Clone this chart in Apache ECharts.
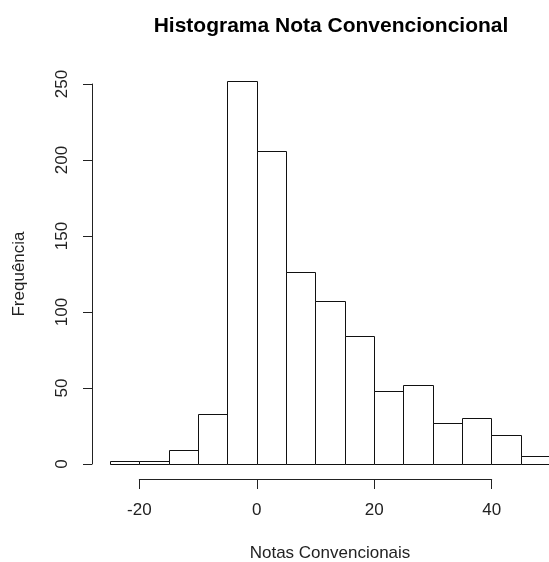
<!DOCTYPE html>
<html>
<head>
<meta charset="utf-8">
<script src="https://cdn.jsdelivr.net/npm/echarts@6/dist/echarts.min.js"></script>
<style>
  html, body { margin: 0; padding: 0; background: #fff; }
  #chart { width: 549px; height: 562px; }
</style>
</head>
<body>
<div id="chart"></div>
<script>
// Histogram bins (lower edge of each class) and their frequencies
const binStarts = [-25, -20, -15, -10, -5, 0, 5, 10, 15, 20, 25, 30, 35, 40, 45];
const binWidth = 5;
const counts = [2, 2, 9, 33, 252, 206, 126, 107, 84, 48, 52, 27, 30, 19, 5];

// Axis tick values
const xTicks = [-20, 0, 20, 40];
const yTicks = [0, 50, 100, 150, 200, 250];

const titleText = 'Histograma Nota Convencioncional';
const xTitle = 'Notas Convencionais';
const yTitle = 'Frequência';

const FONT = '"Liberation Sans", Arial, sans-serif';

const histData = binStarts.map((s, i) => [s, s + binWidth, counts[i]]);

const chart = echarts.init(document.getElementById('chart'), null, { renderer: 'canvas' });

chart.setOption({
  animation: false,
  backgroundColor: '#ffffff',
  title: {
    text: titleText,
    left: 326,
    top: 11,
    textAlign: 'center',
    textStyle: { fontFamily: FONT, fontSize: 21, fontWeight: 'bold', color: '#000' }
  },
  grid: [
    // plotting region holding the bars (full bin range)
    { left: 110, right: -1, top: 84, bottom: 98, outerBoundsMode: 'none', containLabel: false },
    // region for the labelled x axis, spanning only the tick range
    { left: 139.3, right: 57.3, top: 84, bottom: 98, outerBoundsMode: 'none', containLabel: false }
  ],
  xAxis: [
    {
      gridIndex: 0,
      type: 'value',
      min: -25,
      max: 50,
      axisLine: { show: false, onZero: false },
      axisTick: { show: false },
      axisLabel: { show: false },
      splitLine: { show: false },
      name: xTitle,
      nameLocation: 'middle',
      nameGap: 81,
      nameTextStyle: { fontFamily: FONT, fontSize: 17, color: '#222' }
    },
    {
      gridIndex: 1,
      type: 'value',
      min: xTicks[0],
      max: xTicks[xTicks.length - 1],
      interval: 20,
      offset: 15,
      axisLine: { show: true, onZero: false, lineStyle: { color: '#222', width: 1 } },
      axisTick: { show: true, length: 10, lineStyle: { color: '#222', width: 1 } },
      axisLabel: {
        show: true, margin: 23, fontFamily: FONT, fontSize: 17, color: '#222',
        formatter: v => (xTicks.includes(v) ? String(v) : '')
      },
      splitLine: { show: false }
    }
  ],
  yAxis: [
    {
      gridIndex: 0,
      type: 'value',
      min: yTicks[0],
      max: yTicks[yTicks.length - 1],
      interval: 50,
      offset: 18,
      axisLine: { show: true, onZero: false, lineStyle: { color: '#222', width: 1 } },
      axisTick: { show: true, length: 9, lineStyle: { color: '#222', width: 1 } },
      axisLabel: { show: true, rotate: 90, margin: 21, fontFamily: FONT, fontSize: 17, color: '#222' },
      splitLine: { show: false },
      name: yTitle,
      nameLocation: 'middle',
      nameRotate: 90,
      nameGap: 64,
      nameTextStyle: { fontFamily: FONT, fontSize: 17, color: '#222' }
    },
    {
      gridIndex: 1,
      type: 'value',
      min: 0,
      max: 250,
      show: false,
      axisLine: { onZero: false }
    }
  ],
  series: [
    {
      type: 'custom',
      xAxisIndex: 0,
      yAxisIndex: 0,
      clip: false,
      data: histData,
      renderItem: function (params, api) {
        const topLeft = api.coord([api.value(0), api.value(2)]);
        const bottomRight = api.coord([api.value(1), 0]);
        return {
          type: 'rect',
          shape: {
            x: Math.round(topLeft[0]) + 0.5,
            y: Math.round(topLeft[1]) + 0.5,
            width: Math.round(bottomRight[0]) - Math.round(topLeft[0]),
            height: Math.round(bottomRight[1]) - Math.round(topLeft[1])
          },
          style: { fill: '#ffffff', stroke: '#111', lineWidth: 1 }
        };
      }
    }
  ]
});
</script>
</body>
</html>
